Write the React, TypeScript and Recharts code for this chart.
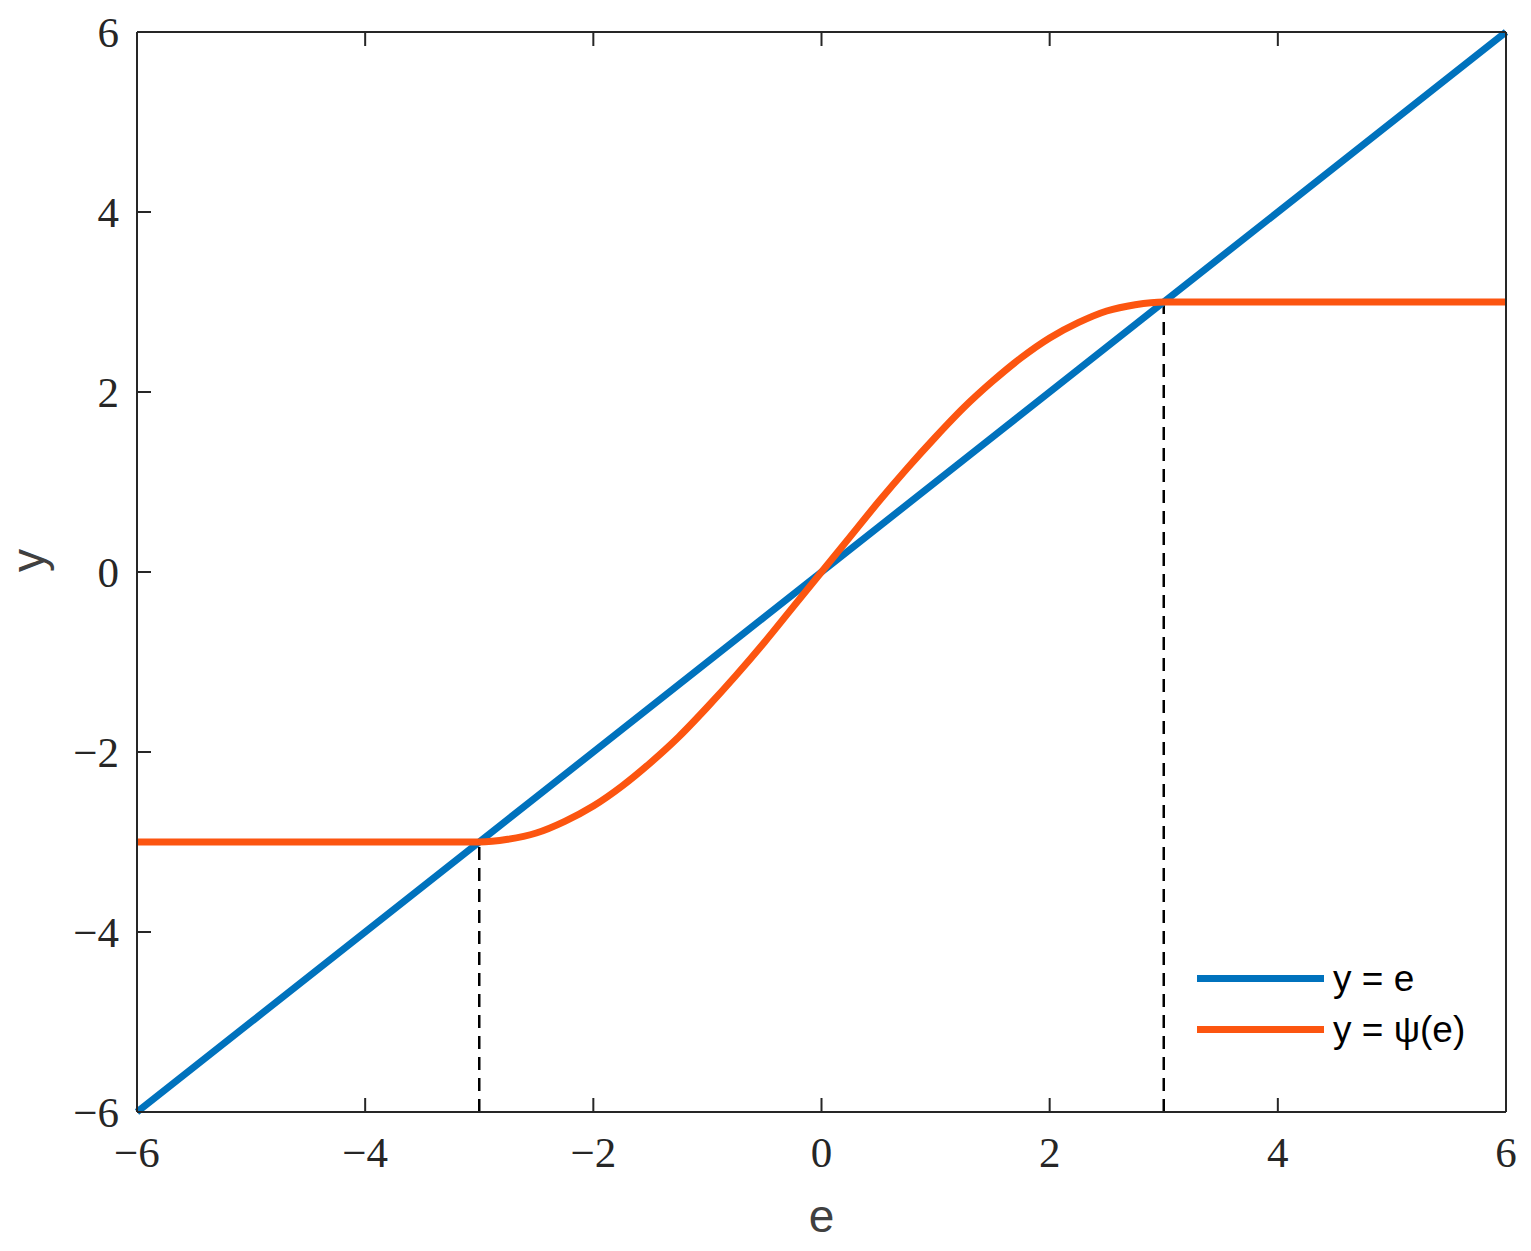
import {
  LineChart,
  Line,
  XAxis,
  YAxis,
  ReferenceLine,
  Legend,
} from 'recharts';

// sample positions along e, and the two curves
const eValues = [
  -6, -3, -2.75, -2.5, -2.25, -2, -1.75, -1.5, -1.25, -1, -0.75, -0.5, -0.25, 0,
  0.25, 0.5, 0.75, 1, 1.25, 1.5, 1.75, 2, 2.25, 2.5, 2.75, 3, 6,
];
const identityValues = [
  -6, -3, -2.75, -2.5, -2.25, -2, -1.75, -1.5, -1.25, -1, -0.75, -0.5, -0.25, 0,
  0.25, 0.5, 0.75, 1, 1.25, 1.5, 1.75, 2, 2.25, 2.5, 2.75, 3, 6,
];
const psiValues = [
  -3, -3, -2.97, -2.9, -2.77, -2.6, -2.38, -2.12, -1.83, -1.5, -1.15, -0.78,
  -0.39, 0, 0.39, 0.78, 1.15, 1.5, 1.83, 2.12, 2.38, 2.6, 2.77, 2.9, 2.97, 3, 3,
];

const xTicks = [-6, -4, -2, 0, 2, 4, 6];
const yTicks = [-6, -4, -2, 0, 2, 4, 6];
const seriesNames = ['y = e', 'y = ψ(e)'];

const BLUE = '#0072BD';
const ORANGE = '#FC5510';
const AXIS = '#262626';

const data = eValues.map((e, i) => ({
  e,
  lin: identityValues[i],
  psi: psiValues[i],
}));

const fmt = (v: number) => String(v).replace('-', '\u2212');

const tickFont = {
  fill: AXIS,
  fontSize: 43,
  fontFamily: '"Liberation Serif", "DejaVu Serif", serif',
};

function LegendBox() {
  const items = [
    { name: seriesNames[0], color: BLUE },
    { name: seriesNames[1], color: ORANGE },
  ];
  return (
    <div style={{ fontFamily: '"Liberation Sans", Arial, sans-serif' }}>
      {items.map((it) => (
        <div
          key={it.name}
          style={{ display: 'flex', alignItems: 'center', height: 51 }}
        >
          <div style={{ width: 127, height: 7, background: it.color }} />
          <span style={{ marginLeft: 9, fontSize: 37, color: '#000' }}>
            {it.name}
          </span>
        </div>
      ))}
    </div>
  );
}

export default function App() {
  return (
    <div style={{ margin: -8, background: '#fff' }}>
      <LineChart
        width={1531}
        height={1251}
        data={data}
        margin={{ top: 0, right: 0, bottom: 0, left: 0 }}
      >
        <XAxis
          xAxisId="b"
          dataKey="e"
          type="number"
          domain={[-6, 6]}
          ticks={xTicks}
          tickFormatter={fmt}
          height={139}
          tickSize={-14}
          tickMargin={38}
          tick={tickFont}
          tickLine={{ stroke: AXIS, strokeWidth: 2 }}
          axisLine={{ stroke: AXIS, strokeWidth: 2 }}
          label={{
            value: 'e',
            position: 'insideBottom',
            offset: 19,
            fill: '#404040',
            fontSize: 46,
            fontFamily: '"Liberation Sans", Arial, sans-serif',
          }}
        />
        <XAxis
          xAxisId="t"
          orientation="top"
          dataKey="e"
          type="number"
          domain={[-6, 6]}
          ticks={xTicks}
          tickFormatter={() => ''}
          height={32}
          tickSize={-14}
          tickLine={{ stroke: AXIS, strokeWidth: 2 }}
          axisLine={{ stroke: AXIS, strokeWidth: 2 }}
        />
        <YAxis
          yAxisId="l"
          type="number"
          domain={[-6, 6]}
          ticks={yTicks}
          tickFormatter={fmt}
          width={137}
          tickSize={-14}
          tickMargin={32}
          tick={tickFont}
          tickLine={{ stroke: AXIS, strokeWidth: 2 }}
          axisLine={{ stroke: AXIS, strokeWidth: 2 }}
          label={{
            value: 'y',
            angle: -90,
            position: 'insideLeft',
            offset: 28,
            fill: '#404040',
            fontSize: 46,
            fontFamily: '"Liberation Sans", Arial, sans-serif',
          }}
        />
        <YAxis
          yAxisId="r"
          orientation="right"
          type="number"
          domain={[-6, 6]}
          ticks={yTicks}
          tickFormatter={() => ''}
          width={25}
          tickSize={-14}
          tickLine={{ stroke: AXIS, strokeWidth: 2 }}
          axisLine={{ stroke: AXIS, strokeWidth: 2 }}
        />
        <ReferenceLine
          xAxisId="b"
          yAxisId="l"
          segment={[
            { x: -3, y: -6 },
            { x: -3, y: -3 },
          ]}
          stroke="#000"
          strokeWidth={2.5}
          strokeDasharray="13 8"
        />
        <ReferenceLine
          xAxisId="b"
          yAxisId="l"
          segment={[
            { x: 3, y: -6 },
            { x: 3, y: 3 },
          ]}
          stroke="#000"
          strokeWidth={2.5}
          strokeDasharray="13 8"
        />
        <Line
          xAxisId="b"
          yAxisId="l"
          dataKey="lin"
          name={seriesNames[0]}
          type="linear"
          stroke={BLUE}
          strokeWidth={7}
          dot={false}
          isAnimationActive={false}
        />
        <Line
          xAxisId="b"
          yAxisId="l"
          dataKey="psi"
          name={seriesNames[1]}
          type="monotone"
          stroke={ORANGE}
          strokeWidth={7}
          dot={false}
          isAnimationActive={false}
        />
        <Legend
          layout="vertical"
          align="center"
          verticalAlign="middle"
          content={() => <LegendBox />}
          wrapperStyle={{ left: 1197, top: 953, width: 300 }}
        />
      </LineChart>
    </div>
  );
}
